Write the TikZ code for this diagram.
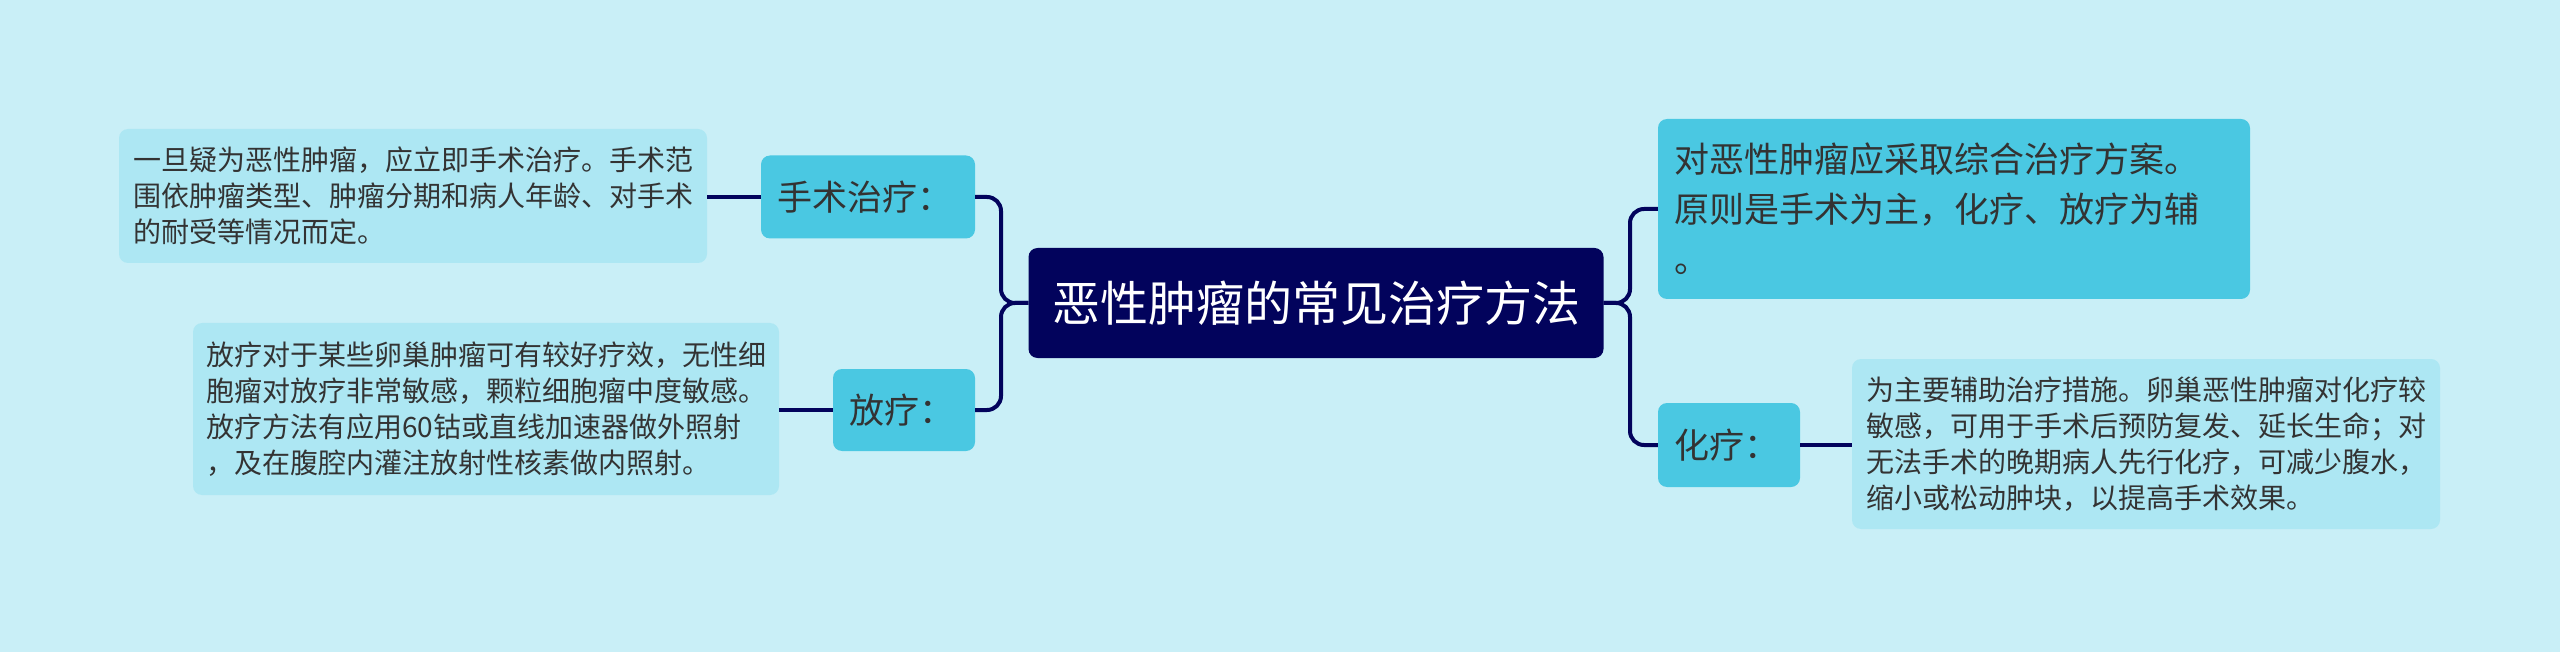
\documentclass[tikz,border=0pt]{standalone}
\usepackage{fontspec}
\setmainfont{Noto Sans CJK SC}
\definecolor{bgc}{HTML}{C9EFF7}
\definecolor{leafc}{HTML}{ADE7F3}
\definecolor{midc}{HTML}{4AC8E2}
\definecolor{navy}{HTML}{02035C}
\definecolor{txt}{HTML}{333333}
\begin{document}
\begin{tikzpicture}[x=1pt,y=-1pt,
  conn/.style={draw=navy,line width=4pt,rounded corners=14pt},
  leaf/.style={fill=leafc,rounded corners=9pt,text=txt,font=\fontsize{28}{36}\selectfont,align=left,inner sep=0pt},
  mid/.style={fill=midc,rounded corners=9pt,text=txt,font=\fontsize{35}{50}\selectfont,align=left,inner sep=0pt},
  root/.style={fill=navy,rounded corners=9pt,text=white,font=\fontsize{48}{56}\selectfont,inner sep=0pt},
]
\fill[bgc] (0,0) rectangle (2560,652);
\useasboundingbox (0,0) rectangle (2560,652);

\node[root,minimum width=575,minimum height=110] (c) at (1316,303) {恶性肿瘤的常见治疗方法};

\node[mid,minimum width=214,minimum height=83,text width=182] (a) at (868,197) {手术治疗：};
\node[mid,minimum width=142,minimum height=82,text width=110] (b) at (904,410) {放疗：};
\node[mid,minimum width=142,minimum height=84,text width=110] (d) at (1729,445) {化疗：};
\node[mid,minimum width=592,minimum height=180,text width=560] (r1) at (1954,209)
  {对恶性肿瘤应采取综合治疗方案。\\原则是手术为主，化疗、放疗为辅\\。};

\node[leaf,minimum width=588,minimum height=134] (l1) at (413,196)
  {一旦疑为恶性肿瘤，应立即手术治疗。手术范\\围依肿瘤类型、肿瘤分期和病人年龄、对手术\\的耐受等情况而定。};
\node[leaf,minimum width=586,minimum height=172] (l2) at (486,409)
  {放疗对于某些卵巢肿瘤可有较好疗效，无性细\\胞瘤对放疗非常敏感，颗粒细胞瘤中度敏感。\\放疗方法有应用60钴或直线加速器做外照射\\，及在腹腔内灌注放射性核素做内照射。};
\node[leaf,minimum width=588,minimum height=170] (l4) at (2146,444)
  {为主要辅助治疗措施。卵巢恶性肿瘤对化疗较\\敏感，可用于手术后预防复发、延长生命；对\\无法手术的晚期病人先行化疗，可减少腹水，\\缩小或松动肿块，以提高手术效果。};

\coordinate (lj) at (1001,303);
\coordinate (rj) at (1630,303);
\draw[conn] (c.west) -- (lj) |- (a.east);
\draw[conn] (c.west) -- (lj) |- (b.east);
\draw[conn] (c.east) -- (rj) |- (r1.west);
\draw[conn] (c.east) -- (rj) |- (d.west);
\draw[conn] (a.west) -- (a.west -| l1.east);
\draw[conn] (b.west) -- (b.west -| l2.east);
\draw[conn] (d.east) -- (d.east -| l4.west);
\end{tikzpicture}
\end{document}
